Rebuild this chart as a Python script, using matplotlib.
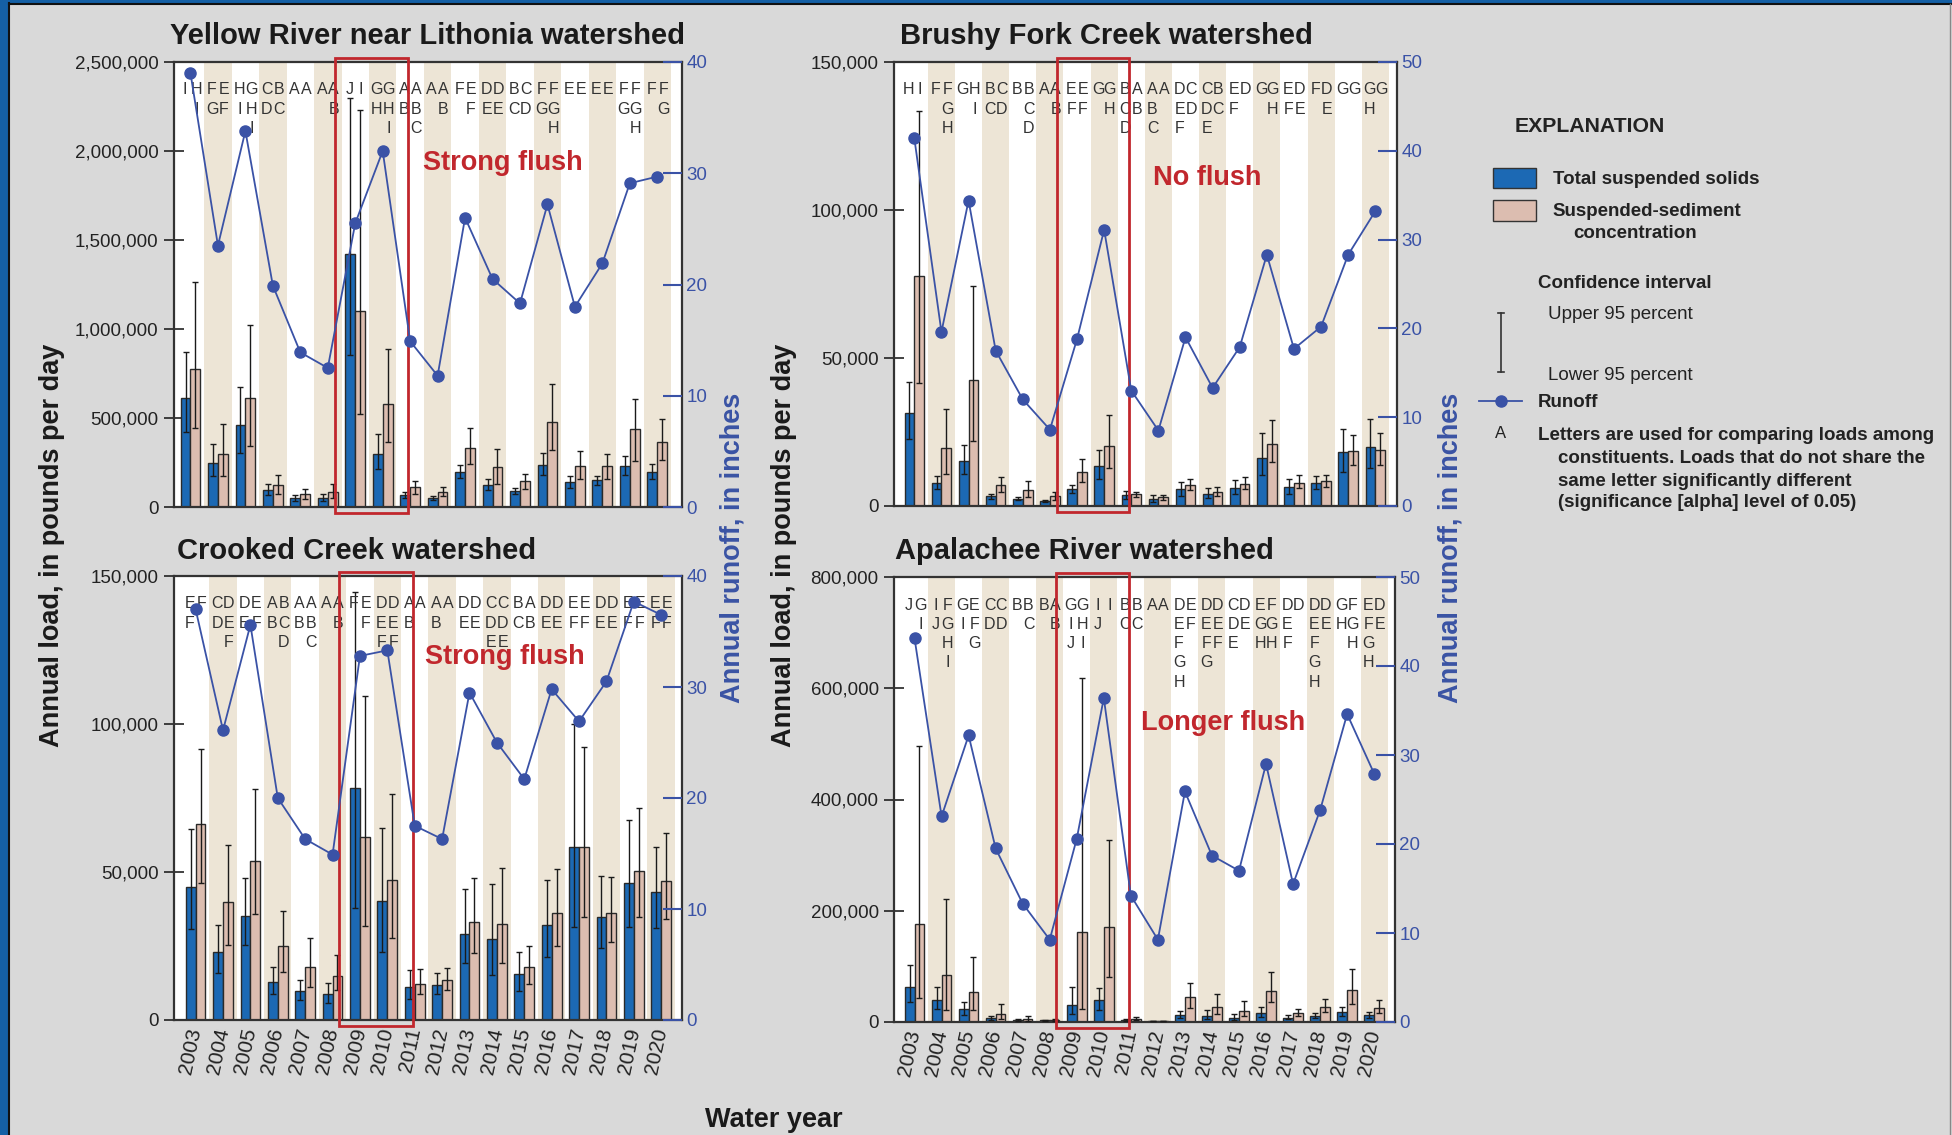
import matplotlib
matplotlib.use("Agg")
import matplotlib.pyplot as plt
from matplotlib.patches import Rectangle
from matplotlib.lines import Line2D
from matplotlib.ticker import FuncFormatter

plt.rcParams['font.family'] = ['Liberation Sans', 'DejaVu Sans']

W, H = 1952, 1135
years = list(range(2003, 2021))

# ---------------- Yellow River near Lithonia ----------------
yr_runoff = [39.0, 23.5, 33.8, 19.9, 13.9, 12.5, 25.5, 32.0, 14.9, 11.8, 26.0, 20.5, 18.3, 27.2, 18.0, 21.9, 29.1, 29.7]
yr_tss = [615000, 249000, 463000, 97500, 52500, 52500, 1421000, 298000, 69000, 52000, 197000, 126000, 88000, 238000, 141000, 150000, 231000, 199000]
yr_tss_lo = [420000, 174000, 306000, 69000, 36000, 36000, 853000, 212000, 52500, 41000, 163000, 97500, 71000, 178000, 109000, 126000, 178000, 159000]
yr_tss_hi = [868000, 352000, 673000, 129000, 69000, 71000, 2297000, 409000, 82500, 64000, 238000, 158000, 109000, 306000, 174000, 174000, 287000, 240000]
yr_ssc = [776000, 298000, 615000, 126000, 73000, 86000, 1103000, 579000, 111000, 86000, 334000, 227000, 146000, 478000, 232000, 232000, 439000, 367500]
yr_ssc_lo = [444000, 176000, 341000, 75000, 47000, 52500, 525000, 366000, 75000, 62000, 244000, 127500, 103000, 319000, 156000, 159000, 257000, 266000]
yr_ssc_hi = [1264000, 467000, 1022000, 180000, 101000, 129000, 2233000, 885000, 148000, 112500, 444000, 324000, 187500, 692000, 315000, 296000, 607500, 493000]
yr_let_tss = ["I", "FG", "HI", "CD", "A", "A", "J", "GH", "AB", "A", "F", "DE", "BC", "FG", "E", "E", "FG", "F"]
yr_let_ssc = ["HI", "EF", "GHI", "BC", "A", "AB", "I", "GHI", "ABC", "AB", "EF", "DE", "CD", "FGH", "E", "E", "FGH", "FG"]

# ---------------- Brushy Fork Creek ----------------
bf_runoff = [41.4, 19.6, 34.4, 17.5, 12.0, 8.6, 18.8, 31.1, 13.0, 8.5, 19.0, 13.3, 17.9, 28.3, 17.7, 20.2, 28.3, 33.2]
bf_tss = [31300, 7800, 15200, 3300, 2500, 1700, 5700, 13400, 3600, 2500, 5700, 4200, 6200, 16300, 6500, 7800, 18100, 20100]
bf_tss_lo = [22700, 5900, 10800, 2500, 2000, 1350, 4500, 9000, 2250, 1500, 3400, 2600, 4100, 10500, 4200, 5700, 11500, 12700]
bf_tss_hi = [42000, 10300, 20700, 4100, 3000, 2000, 7200, 18900, 5100, 3600, 8200, 6100, 8700, 24700, 9200, 10000, 26100, 29400]
bf_ssc = [77800, 19700, 42400, 7100, 5300, 3300, 11500, 20400, 3900, 2900, 7100, 4800, 7600, 21000, 7900, 8500, 18500, 18800]
bf_ssc_lo = [41500, 10800, 22000, 4800, 3000, 2000, 8100, 12700, 2900, 2000, 5500, 3400, 5600, 15000, 6100, 6500, 13700, 13700]
bf_ssc_hi = [133400, 32800, 74200, 9800, 8500, 4700, 15900, 30900, 4700, 3800, 9200, 6500, 9700, 29000, 10400, 10400, 24100, 24700]
bf_let_tss = ["H", "F", "G", "BC", "B", "A", "EF", "G", "BCD", "ABC", "DEF", "CDE", "EF", "G", "EF", "F", "G", "GH"]
bf_let_ssc = ["I", "FGH", "HI", "CD", "BCD", "AB", "EF", "GH", "AB", "A", "CD", "BC", "D", "GH", "DE", "DE", "G", "G"]

# ---------------- Crooked Creek ----------------
cc_runoff = [37.0, 26.1, 35.6, 20.0, 16.3, 14.9, 32.8, 33.3, 17.5, 16.3, 29.5, 25.0, 21.7, 29.8, 26.9, 30.5, 37.7, 36.5]
cc_tss = [45100, 23000, 35200, 12700, 9700, 8900, 78400, 40100, 11300, 11900, 29100, 27500, 15400, 32000, 58600, 34700, 46400, 43200]
cc_tss_lo = [30700, 15800, 25500, 8800, 6800, 5900, 37800, 23100, 7200, 8800, 19100, 15100, 9900, 21300, 31500, 24400, 31500, 31200]
cc_tss_hi = [64400, 32200, 48000, 18000, 13500, 12600, 144600, 64700, 16800, 16000, 44300, 46100, 23000, 47400, 100100, 48600, 67400, 58500]
cc_ssc = [66100, 39700, 53700, 25100, 18000, 15000, 61900, 47300, 12300, 13500, 33200, 32400, 17900, 36000, 58500, 36000, 50400, 46900]
cc_ssc_lo = [46400, 25500, 35700, 16300, 11100, 10100, 31700, 27600, 8800, 10000, 22700, 19100, 12300, 25100, 34700, 26400, 34900, 34000]
cc_ssc_hi = [91700, 59100, 78200, 36900, 27600, 21900, 109400, 76200, 17300, 17600, 48000, 51400, 25100, 51000, 92200, 48400, 71700, 63200]
cc_let_tss = ["EF", "CD", "DE", "AB", "AB", "A", "F", "DEF", "AB", "AB", "DE", "CDE", "BC", "DE", "EF", "DE", "EF", "EF"]
cc_let_ssc = ["F", "DEF", "EF", "BCD", "ABC", "AB", "EF", "DEF", "A", "A", "DE", "CDE", "AB", "DE", "EF", "DE", "EF", "EF"]

# ---------------- Apalachee River ----------------
ap_runoff = [43.1, 23.1, 32.2, 19.5, 13.3, 9.25, 20.6, 36.4, 14.2, 9.25, 25.9, 18.7, 17.0, 29.0, 15.5, 23.8, 34.6, 27.9]
ap_tss = [63500, 39500, 22800, 6600, 3600, 3000, 30000, 39500, 4200, 1800, 13200, 10200, 7800, 15600, 7800, 11400, 18000, 12600]
ap_tss_lo = [35300, 24000, 13200, 3600, 2400, 1800, 15000, 22200, 2400, 1200, 7800, 5400, 4200, 9000, 4800, 6600, 10200, 7800]
ap_tss_hi = [101900, 62900, 35300, 10800, 4800, 4200, 62900, 61100, 6000, 2400, 19800, 21000, 13800, 27600, 12000, 16200, 26400, 18000]
ap_ssc = [175600, 83900, 54500, 13800, 5400, 4200, 162400, 170800, 6000, 1800, 44300, 27000, 20400, 56300, 15600, 27000, 57500, 25200]
ap_ssc_lo = [42500, 22200, 22200, 5400, 2400, 1800, 22800, 81500, 3600, 1200, 25200, 14400, 11400, 35300, 10200, 17400, 32400, 16200]
ap_ssc_hi = [496700, 221100, 117400, 33000, 10200, 6000, 618900, 326500, 8400, 2400, 70700, 50900, 38300, 90500, 23400, 41300, 95900, 40100]
ap_let_tss = ["J", "IJ", "GI", "CD", "B", "B", "GIJ", "IJ", "BC", "A", "DEFGH", "DEFG", "CDE", "EGH", "DEF", "DEFGH", "GH", "EFGH"]
ap_let_ssc = ["GI", "FGHI", "EFG", "CD", "BC", "AB", "GHI", "I", "BC", "A", "EF", "DEF", "DE", "FGH", "D", "DE", "FGH", "DE"]

titles = ["Yellow River near Lithonia watershed", "Brushy Fork Creek watershed",
          "Crooked Creek watershed", "Apalachee River watershed"]
flush_labels = ["Strong flush", "No flush", "Strong flush", "Longer flush"]

BLUE = "#1c69b4"
PINK = "#dcbdb0"
BEIGE = "#ede5d6"
RUN = "#3a52a6"
RED = "#c1272d"
TXT = "#222222"

fig = plt.figure(figsize=(W / 100, H / 100), dpi=100, facecolor="#d9d9d9")


def fx(px):
    return px / W


def fy(py):
    return 1 - py / H


panels = [
    dict(box=(174, 62, 682, 507), xl=(-0.6, 17.9), ymax=2500000, ystep=500000, rmax=40,
         run=yr_runoff, tss=yr_tss, tlo=yr_tss_lo, thi=yr_tss_hi, ssc=yr_ssc, slo=yr_ssc_lo, shi=yr_ssc_hi,
         lt=yr_let_tss, ls=yr_let_ssc, flush=(8.48, 0.773), title=(170, 36), bottom=False),
    dict(box=(894, 62, 1397, 506), xl=(-0.75, 17.8), ymax=150000, ystep=50000, rmax=50,
         run=bf_runoff, tss=bf_tss, tlo=bf_tss_lo, thi=bf_tss_hi, ssc=bf_ssc, slo=bf_ssc_lo, shi=bf_ssc_hi,
         lt=bf_let_tss, ls=bf_let_ssc, flush=(8.82, 0.739), title=(900, 36), bottom=False),
    dict(box=(174, 576, 682, 1020), xl=(-0.79, 17.76), ymax=150000, ystep=50000, rmax=40,
         run=cc_runoff, tss=cc_tss, tlo=cc_tss_lo, thi=cc_tss_hi, ssc=cc_ssc, slo=cc_ssc_lo, shi=cc_ssc_hi,
         lt=cc_let_tss, ls=cc_let_ssc, flush=(8.37, 0.818), title=(177, 551), bottom=True),
    dict(box=(894, 577, 1395, 1022), xl=(-0.76, 17.77), ymax=800000, ystep=200000, rmax=50,
         run=ap_runoff, tss=ap_tss, tlo=ap_tss_lo, thi=ap_tss_hi, ssc=ap_ssc, slo=ap_ssc_lo, shi=ap_ssc_hi,
         lt=ap_let_tss, ls=ap_let_ssc, flush=(8.37, 0.672), title=(895, 551), bottom=True),
]

bw = 0.36
idx = list(range(len(years)))
for p, title, flabel in zip(panels, titles, flush_labels):
    x0, y0, x1, y1 = p["box"]
    ax = fig.add_axes([fx(x0), fy(y1), fx(x1 - x0), (y1 - y0) / H])
    ax.set_facecolor("white")
    ax.set_xlim(*p["xl"])
    ax.set_ylim(0, p["ymax"])
    for i in idx:
        if i % 2 == 1:
            ax.axvspan(i - 0.5, i + 0.5, color=BEIGE, zorder=0, lw=0)
    ax.bar([i - bw / 2 for i in idx], p["tss"], width=bw, color=BLUE, edgecolor="#2a2a2a", lw=1.0, zorder=2)
    ax.bar([i + bw / 2 for i in idx], p["ssc"], width=bw, color=PINK, edgecolor="#2a2a2a", lw=1.0, zorder=2)
    terr = [[v - lo for v, lo in zip(p["tss"], p["tlo"])], [hi - v for v, hi in zip(p["tss"], p["thi"])]]
    serr = [[v - lo for v, lo in zip(p["ssc"], p["slo"])], [hi - v for v, hi in zip(p["ssc"], p["shi"])]]
    ax.errorbar([i - bw / 2 for i in idx], p["tss"], yerr=terr, fmt="none", ecolor="#1a1a1a",
                elinewidth=1.0, capsize=2.5, capthick=1.0, zorder=3)
    ax.errorbar([i + bw / 2 for i in idx], p["ssc"], yerr=serr, fmt="none", ecolor="#1a1a1a",
                elinewidth=1.0, capsize=2.5, capthick=1.0, zorder=3)
    ax.set_yticks(range(0, p["ymax"] + 1, p["ystep"]))
    ax.yaxis.set_major_formatter(FuncFormatter(lambda v, pos: f"{int(v):,}"))
    ax.tick_params(axis="y", direction="inout", length=14, width=1.2, labelsize=13.5,
                   colors="#222222", pad=4)
    ax.set_xticks(idx)
    if p["bottom"]:
        ax.set_xticklabels([str(y) for y in years], rotation=78, rotation_mode="anchor",
                           ha="right", va="center", fontsize=15, color=TXT)
        ax.tick_params(axis="x", length=0, pad=6)
    else:
        ax.tick_params(axis="x", length=0, labelbottom=False)
    for s in ax.spines.values():
        s.set_color("#333333")
        s.set_linewidth(1.6)

    # letters
    for i in idx:
        for off, letters in ((-0.215, p["lt"][i]), (0.215, p["ls"][i])):
            for k, ch in enumerate(letters):
                ax.annotate(ch, xy=(i + off, 1), xycoords=("data", "axes fraction"),
                            xytext=(0, -28 - 19.3 * k), textcoords="offset pixels",
                            ha="center", va="center", fontsize=11.5, color="#333333", zorder=6)

    ax2 = ax.twinx()
    ax2.set_ylim(0, p["rmax"])
    ax2.set_yticks(range(0, p["rmax"] + 1, 10))
    ax2.plot(idx, p["run"], color=RUN, lw=1.3, marker="o", ms=8, zorder=5)
    ax2.tick_params(axis="y", direction="in", length=14, width=1.5, colors=RUN,
                    labelsize=13.5, pad=3)
    for s in ax2.spines.values():
        s.set_visible(False)

    # highlight box
    ax.add_patch(Rectangle((5.25, -0.013), 2.68, 1.022, transform=ax.get_xaxis_transform(),
                           fill=False, edgecolor=RED, lw=2.0, clip_on=False, zorder=10))
    ax.text(p["flush"][0], p["flush"][1], flabel, transform=ax.get_xaxis_transform(),
            color=RED, fontsize=19.5, fontweight="bold", ha="left", va="center", zorder=10,
            family=["Liberation Sans Narrow", "Liberation Sans"])

    tx, ty = p["title"]
    fig.text(fx(tx), fy(ty), title, fontsize=21, fontweight="bold", color="#1a1a1a",
             ha="left", va="center")

# axis labels
for xpx in (52, 784):
    fig.text(fx(xpx), fy(545), "Annual load, in pounds per day", rotation=90, ha="center",
             va="center", fontsize=19.5, fontweight="bold", color="#1a1a1a")
for xpx in (732, 1450):
    fig.text(fx(xpx), fy(548), "Annual runoff, in inches", rotation=90, ha="center",
             va="center", fontsize=19.5, fontweight="bold", color="#3a53a4")
fig.text(fx(774), fy(1120), "Water year", ha="center", va="center", fontsize=19.5,
         fontweight="bold", color="#1a1a1a")

# ---------------- Explanation ----------------
fig.text(fx(1515), fy(127), "EXPLANATION", fontsize=15.3, fontweight="bold", color="#222222",
         ha="left", va="center")
fig.add_artist(Rectangle((fx(1493), fy(188)), fx(43), 20 / H, transform=fig.transFigure,
                         facecolor=BLUE, edgecolor="#333333", lw=1.0))
fig.text(fx(1553), fy(179), "Total suspended solids", fontsize=13.5, fontweight="bold",
         color="#222222", ha="left", va="center")
fig.add_artist(Rectangle((fx(1493), fy(221)), fx(43), 21 / H, transform=fig.transFigure,
                         facecolor=PINK, edgecolor="#333333", lw=1.0))
fig.text(fx(1552), fy(212), "Suspended-sediment", fontsize=13.5, fontweight="bold",
         color="#222222", ha="left", va="center")
fig.text(fx(1573), fy(233), "concentration", fontsize=13.5, fontweight="bold",
         color="#222222", ha="left", va="center")
fig.text(fx(1538), fy(283), "Confidence interval", fontsize=13.5, fontweight="bold",
         color="#222222", ha="left", va="center")
fig.text(fx(1548), fy(315), "Upper 95 percent", fontsize=13.5, color="#222222",
         ha="left", va="center")
fig.text(fx(1548), fy(375), "Lower 95 percent", fontsize=13.5, color="#222222",
         ha="left", va="center")
fig.add_artist(Line2D([fx(1501), fx(1501)], [fy(313), fy(372)], transform=fig.transFigure,
                      color="#333333", lw=1.2))
for ypx in (313, 372):
    fig.add_artist(Line2D([fx(1498), fx(1504)], [fy(ypx), fy(ypx)], transform=fig.transFigure,
                          color="#333333", lw=1.2))
fig.add_artist(Line2D([fx(1479), fx(1522)], [fy(401), fy(401)], transform=fig.transFigure,
                      color=RUN, lw=1.3))
fig.add_artist(Line2D([fx(1501)], [fy(401)], transform=fig.transFigure, color=RUN,
                      marker="o", ms=8))
fig.text(fx(1538), fy(403), "Runoff", fontsize=13.5, fontweight="bold", color="#222222",
         ha="left", va="center")
fig.text(fx(1501), fy(434), "A", fontsize=12, color="#222222", ha="center", va="center")
expl = [(1538, 436, "Letters are used for comparing loads among"),
        (1558, 458, "constituents. Loads that do not share the"),
        (1558, 481, "same letter significantly different"),
        (1558, 503, "(significance [alpha] level of 0.05)")]
for xp, yp, t in expl:
    fig.text(fx(xp), fy(yp), t, fontsize=13.5, fontweight="bold", color="#222222",
             ha="left", va="center")

# frame
fig.add_artist(Rectangle((0, 0), fx(8), 1, transform=fig.transFigure, facecolor="#1560a5",
                         edgecolor="none"))
fig.add_artist(Rectangle((0, fy(3)), 1, 3 / H, transform=fig.transFigure, facecolor="#1560a5",
                         edgecolor="none"))
fig.add_artist(Line2D([fx(9), fx(9)], [0, fy(3)], transform=fig.transFigure, color="#111111", lw=1.5))
fig.add_artist(Line2D([fx(9), 1], [fy(4), fy(4)], transform=fig.transFigure, color="#111111", lw=1.5))
fig.add_artist(Line2D([fx(1950), fx(1950)], [0, fy(4)], transform=fig.transFigure, color="#888888", lw=1.0))

fig.savefig("out.png", dpi=100, facecolor=fig.get_facecolor())
